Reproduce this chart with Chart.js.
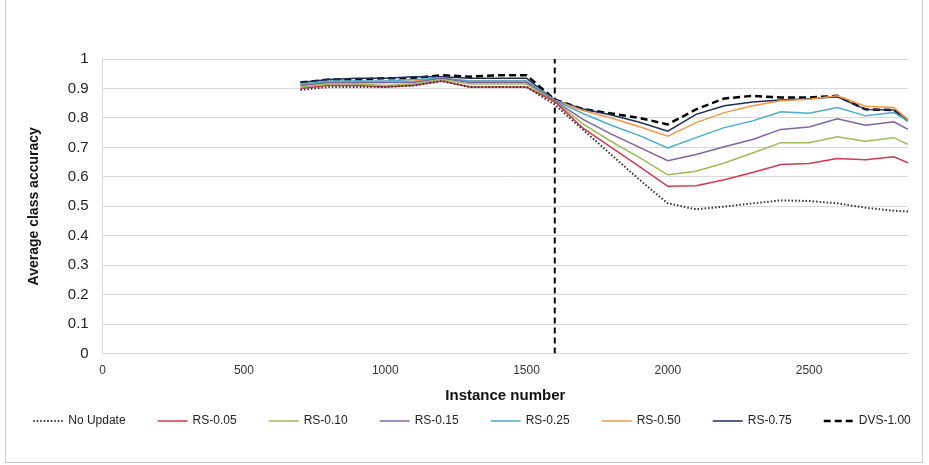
<!DOCTYPE html>
<html>
<head>
<meta charset="utf-8">
<script src="https://cdn.jsdelivr.net/npm/chart.js@4.4.1/dist/chart.umd.min.js"></script>
<style>
    body { margin: 0; background: #fff; }
    #wrap { position: relative; width: 929px; height: 465px; }
    #frame { position: absolute; left: 5px; top: -1px; width: 916px; height: 462px; border: 1px solid #c8c8c8; }
    canvas { position: absolute; left: 0; top: 0; }
</style>
</head>
<body>
<div id="wrap">
    <div id="frame"></div>
    <canvas id="chart" width="929" height="465"></canvas>
</div>
<script>
// Instance numbers where accuracy was measured
const instances = [700, 800, 900, 1000, 1100, 1200, 1300, 1400, 1500,
    1600, 1700, 1800, 1900, 2000, 2100, 2200, 2300, 2400, 2500, 2600, 2700, 2800, 2850];

const noUpdate = [0.895, 0.905, 0.905, 0.905, 0.91, 0.925, 0.905, 0.905, 0.905,
    0.845, 0.76, 0.675, 0.59, 0.51, 0.49, 0.499, 0.51, 0.52, 0.518, 0.51, 0.495, 0.485, 0.482];
const rs005 = [0.9, 0.91, 0.91, 0.905, 0.91, 0.925, 0.905, 0.905, 0.905,
    0.855, 0.765, 0.7, 0.635, 0.568, 0.57, 0.59, 0.615, 0.642, 0.645, 0.662, 0.658, 0.668, 0.648];
const rs010 = [0.905, 0.915, 0.915, 0.91, 0.915, 0.93, 0.915, 0.915, 0.915,
    0.855, 0.78, 0.72, 0.665, 0.607, 0.619, 0.647, 0.681, 0.716, 0.716, 0.736, 0.721, 0.733, 0.71];
const rs015 = [0.91, 0.92, 0.92, 0.92, 0.92, 0.935, 0.92, 0.92, 0.92,
    0.858, 0.795, 0.745, 0.7, 0.655, 0.676, 0.702, 0.727, 0.761, 0.769, 0.797, 0.775, 0.787, 0.761];
const rs025 = [0.915, 0.925, 0.925, 0.925, 0.93, 0.935, 0.925, 0.925, 0.925,
    0.86, 0.815, 0.775, 0.74, 0.698, 0.733, 0.767, 0.79, 0.821, 0.816, 0.835, 0.807, 0.818, 0.79];
const rs050 = [0.91, 0.92, 0.92, 0.92, 0.925, 0.935, 0.925, 0.925, 0.925,
    0.86, 0.825, 0.8, 0.77, 0.738, 0.784, 0.818, 0.841, 0.858, 0.863, 0.875, 0.84, 0.835, 0.795];
const rs075 = [0.92, 0.93, 0.935, 0.935, 0.94, 0.94, 0.935, 0.935, 0.935,
    0.86, 0.83, 0.81, 0.785, 0.755, 0.812, 0.841, 0.854, 0.861, 0.865, 0.872, 0.829, 0.827, 0.79];
const dvs100 = [0.92, 0.93, 0.93, 0.935, 0.935, 0.945, 0.94, 0.945, 0.945,
    0.862, 0.83, 0.815, 0.8, 0.778, 0.829, 0.866, 0.875, 0.869, 0.869, 0.875, 0.829, 0.827, 0.79];

// Concept drift marker
const driftAt = 1600;
const driftSpan = [0, 1];

const xTicks = [0, 500, 1000, 1500, 2000, 2500];
const yTicks = [0, 0.1, 0.2, 0.3, 0.4, 0.5, 0.6, 0.7, 0.8, 0.9, 1];

const toPoints = vals => instances.map((x, i) => ({ x, y: vals[i] }));

function series(label, vals, color, width, dash) {
    return {
        label,
        data: toPoints(vals),
        borderColor: color,
        backgroundColor: color,
        borderWidth: width,
        borderDash: dash || [],
        pointRadius: 0,
        tension: 0
    };
}

const font = '"Liberation Sans", sans-serif';

// Excel-style legend row under the axis title
const bottomLegend = {
    id: 'bottomLegend',
    afterDraw(chart) {
        const ctx = chart.ctx;
        const items = chart.data.datasets.filter(d => d.label !== 'drift');
        const lineW = 30, gap = 5, itemGap = 32, y = 421;
        ctx.save();
        ctx.font = '12px ' + font;
        const widths = items.map(d => lineW + gap + ctx.measureText(d.label).width);
        const total = widths.reduce((a, b) => a + b, 0) + itemGap * (items.length - 1);
        let x = 472 - total / 2;
        items.forEach((d, i) => {
            ctx.beginPath();
            ctx.strokeStyle = d.borderColor;
            ctx.lineWidth = d.borderWidth;
            ctx.setLineDash(d.borderDash);
            ctx.moveTo(x, y);
            ctx.lineTo(x + lineW, y);
            ctx.stroke();
            ctx.setLineDash([]);
            ctx.fillStyle = '#222';
            ctx.textBaseline = 'middle';
            ctx.fillText(d.label, x + lineW + gap, y);
            x += widths[i] + itemGap;
        });
        ctx.restore();
    }
};

new Chart(document.getElementById('chart'), {
    type: 'line',
    data: {
        datasets: [
            series('No Update', noUpdate, '#333333', 2, [1.5, 2]),
            series('RS-0.05', rs005, '#d0394f', 1.5),
            series('RS-0.10', rs010, '#9bbb59', 1.5),
            series('RS-0.15', rs015, '#8064a2', 1.5),
            series('RS-0.25', rs025, '#4bacc6', 1.5),
            series('RS-0.50', rs050, '#f79646', 1.5),
            series('RS-0.75', rs075, '#1f2d5a', 1.5),
            series('DVS-1.00', dvs100, '#000000', 2.5, [7, 4]),
            {
                label: 'drift',
                data: driftSpan.map(y => ({ x: driftAt, y })),
                borderColor: '#000',
                borderWidth: 2,
                borderDash: [6, 4],
                pointRadius: 0
            }
        ]
    },
    plugins: [bottomLegend],
    options: {
        responsive: false,
        animation: false,
        layout: { padding: { left: 22, right: 21, top: 59, bottom: 60 } },
        plugins: {
            legend: { display: false },
            tooltip: { enabled: false }
        },
        scales: {
            x: {
                type: 'linear',
                min: 0,
                max: 2850,
                afterBuildTicks: axis => { axis.ticks = xTicks.map(value => ({ value })); },
                ticks: {
                    color: '#333',
                    font: { family: font, size: 12 },
                    padding: 2,
                    callback: v => String(v)
                },
                grid: { display: false },
                border: { color: '#d9d9d9' },
                title: {
                    display: true,
                    text: 'Instance number',
                    color: '#111',
                    font: { family: font, size: 15, weight: 'bold' },
                    padding: { top: 7, bottom: 0 }
                }
            },
            y: {
                min: 0,
                max: 1,
                afterBuildTicks: axis => { axis.ticks = yTicks.map(value => ({ value })); },
                ticks: {
                    color: '#222',
                    font: { family: font, size: 15 },
                    padding: 14,
                    autoSkip: false,
                    callback: v => String(Math.round(v * 10) / 10)
                },
                grid: { color: '#d9d9d9', drawTicks: false },
                border: { color: '#d9d9d9' },
                title: {
                    display: true,
                    text: 'Average class accuracy',
                    color: '#111',
                    font: { family: font, size: 14, weight: 'bold' },
                    padding: { bottom: 11 }
                }
            }
        }
    }
});
</script>
</body>
</html>
